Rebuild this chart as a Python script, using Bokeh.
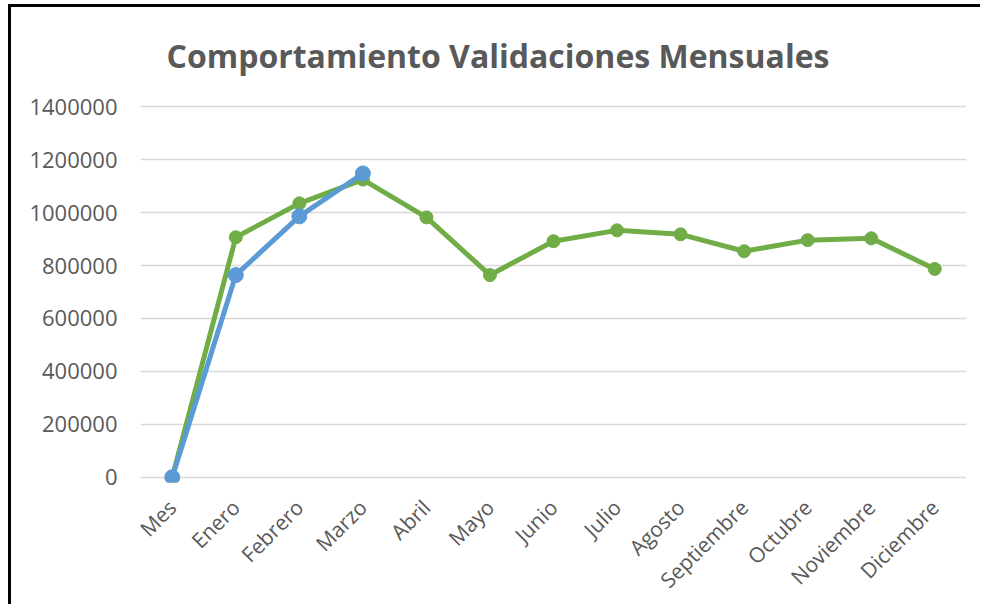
import math
from bokeh.plotting import figure
from bokeh.models import FactorRange, Range1d, FixedTicker, NumeralTickFormatter
from bokeh.embed import file_html
from bokeh.resources import INLINE

# ---- data ----
titulo = "Comportamiento Validaciones Mensuales"
meses = ["Mes", "Enero", "Febrero", "Marzo", "Abril", "Mayo", "Junio", "Julio",
         "Agosto", "Septiembre", "Octubre", "Noviembre", "Diciembre"]
serie_verde = [0, 907000, 1035000, 1125000, 982000, 764000, 892000, 933000,
               918000, 854000, 896000, 903000, 787000]
meses_azul = ["Mes", "Enero", "Febrero", "Marzo"]
serie_azul = [0, 764000, 986000, 1148000]
y_ticks = [0, 200000, 400000, 600000, 800000, 1000000, 1200000, 1400000]

VERDE = "#70AD47"
AZUL = "#5B9BD5"
GRIS = "#595959"

p = figure(
    x_range=FactorRange(*meses, range_padding=0),
    y_range=Range1d(-20000, 1420000),
    width=972, height=600,
    output_backend="svg", toolbar_location=None,
    min_border_left=129, min_border_right=17,
    min_border_top=93, min_border_bottom=125,
)
p.styles = {"border-left": "3px solid black", "border-top": "3px solid black",
            "margin-left": "8px", "margin-top": "4px"}
p.outline_line_color = None
p.background_fill_color = "white"
p.border_fill_color = "white"

p.title.text = titulo
p.title.align = "left"
p.title.offset = 26
p.title.standoff = 49
p.title.text_font = "Open Sans"
p.title.text_font_style = "bold"
p.title.text_font_size = "32px"
p.title.text_color = GRIS

p.xgrid.grid_line_color = None
p.ygrid.grid_line_color = "#D9D9D9"
p.ygrid.grid_line_width = 1.5

p.yaxis.ticker = FixedTicker(ticks=y_ticks)
p.yaxis.formatter = NumeralTickFormatter(format="0")
for ax in (p.xaxis, p.yaxis):
    ax.axis_line_color = None
    ax.major_tick_line_color = None
    ax.minor_tick_line_color = None
    ax.major_label_text_font = "Open Sans"
    ax.major_label_text_color = GRIS
p.yaxis.major_label_text_font_size = "22px"
p.xaxis.major_label_text_font_size = "21px"
p.yaxis.major_label_standoff = 17
p.xaxis.major_label_standoff = 15
p.xaxis.major_label_orientation = math.pi / 4

p.line(meses, serie_verde, line_color=VERDE, line_width=5, line_join="round")
p.scatter(meses, serie_verde, size=13, fill_color=VERDE, line_color=VERDE)
p.line(meses_azul, serie_azul, line_color=AZUL, line_width=5, line_join="round")
p.scatter(meses_azul, serie_azul, size=15, fill_color=AZUL, line_color=AZUL)

open("out.html", "w").write(file_html(p, INLINE))
